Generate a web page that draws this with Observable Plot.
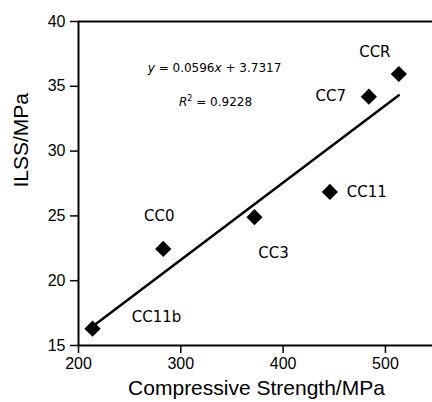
<!DOCTYPE html>
<html>
<head>
<meta charset="utf-8">
<script src="https://cdn.jsdelivr.net/npm/d3@7"></script>
<script src="https://cdn.jsdelivr.net/npm/@observablehq/plot@0.6"></script>
<style>
  html, body { margin: 0; padding: 0; background: #fff; }
  #chart svg { display: block; }
</style>
</head>
<body>
<div id="chart"></div>
<script>
// ---- data ----
const samples = ["CC11b", "CC0", "CC3", "CC11", "CC7", "CCR"];
const compressive = [213.7, 282.8, 372.0, 445.7, 483.8, 513.1];
const ilss = [16.3, 22.45, 24.9, 26.85, 34.2, 35.95];
const fitSlope = 0.0596;
const fitIntercept = 3.7317;
const fitR2 = 0.9228;
const xTicks = [200, 300, 400, 500];
const yTicks = [15, 20, 25, 30, 35, 40];
const xTitle = "Compressive Strength/MPa";
const yTitle = "ILSS/MPa";

// ---- build ----
const points = samples.map((s, i) => ({name: s, x: compressive[i], y: ilss[i]}));
const xMin = d3.min(compressive), xMax = d3.max(compressive);
const fitLine = [xMin, xMax].map(x => ({x, y: fitSlope * x + fitIntercept}));
const eqText = `y = ${fitSlope}x + ${fitIntercept}`;
const r2Text = `R2 = ${fitR2}`;

// label offsets in pixels (style)
const labelOffset = {
  "CC11b": [64, -11], "CC0": [-4, -33], "CC3": [19, 36],
  "CC11": [37, 0], "CC7": [-38, 0], "CCR": [-24, -22]
};

const labelFont = "'DejaVu Sans', Verdana, sans-serif";
const axisFont = "'Liberation Sans', Arial, sans-serif";

const chart = Plot.plot({
  width: 432,
  height: 402,
  marginLeft: 78,
  marginRight: 0,
  marginTop: 21,
  marginBottom: 57,
  style: {fontFamily: axisFont, fontSize: "16px", color: "#000", background: "#fff"},
  x: {domain: [200, 546], ticks: xTicks},
  y: {domain: [15, 40], ticks: yTicks},
  marks: [
    Plot.ruleY([40], {stroke: "#000", strokeWidth: 2}),
    Plot.ruleY([15], {stroke: "#000", strokeWidth: 2}),
    Plot.ruleX([200], {stroke: "#000", strokeWidth: 2}),
    Plot.axisX({ticks: xTicks, tickSize: 8, tickPadding: 4, label: null, fontSize: 16, strokeWidth: 1.5}),
    Plot.axisY({ticks: yTicks, tickSize: 8, tickPadding: 5, label: null, fontSize: 16, strokeWidth: 1.5}),
    Plot.text([xTitle], {frameAnchor: "bottom", text: d => d, dx: 1, dy: 43, lineAnchor: "middle", fontSize: 21, fontFamily: axisFont}),
    Plot.text([yTitle], {frameAnchor: "left", text: d => d, dx: -57, dy: 4, rotate: -90, lineAnchor: "middle", fontSize: 21, fontFamily: axisFont}),
    Plot.line(fitLine, {x: "x", y: "y", stroke: "#000", strokeWidth: 2.5}),
    Plot.dot(points, {x: "x", y: "y", symbol: "diamond2", r: 7.3, fill: "#000", stroke: "none"}),
    ...points.map(p => Plot.text([p], {
      x: "x", y: "y", text: "name",
      dx: labelOffset[p.name][0], dy: labelOffset[p.name][1],
      fontSize: 15, fontFamily: labelFont, lineAnchor: "middle"
    })),
    Plot.text([eqText], {frameAnchor: "top-left", text: d => d, dx: 136, dy: 47, textAnchor: "middle", lineAnchor: "middle", fontSize: 12, fontFamily: labelFont}),
    Plot.text([r2Text], {frameAnchor: "top-left", text: d => d, dx: 137, dy: 81, textAnchor: "middle", lineAnchor: "middle", fontSize: 12, fontFamily: labelFont})
  ]
});

// style the equation: italic variables, superscript
chart.querySelectorAll("text").forEach(t => {
  if (t.textContent === eqText) {
    t.textContent = "";
    const parts = [["y", true], [` = ${fitSlope}`, false], ["x", true], [` + ${fitIntercept}`, false]];
    parts.forEach(([s, it]) => {
      const ts = document.createElementNS("http://www.w3.org/2000/svg", "tspan");
      ts.textContent = s;
      if (it) ts.setAttribute("font-style", "italic");
      t.appendChild(ts);
    });
  } else if (t.textContent === r2Text) {
    t.textContent = "";
    const a = document.createElementNS("http://www.w3.org/2000/svg", "tspan");
    a.textContent = "R"; a.setAttribute("font-style", "italic");
    const b = document.createElementNS("http://www.w3.org/2000/svg", "tspan");
    b.textContent = "2"; b.setAttribute("font-size", "8"); b.setAttribute("dy", "-5");
    const c = document.createElementNS("http://www.w3.org/2000/svg", "tspan");
    c.textContent = ` = ${fitR2}`; c.setAttribute("dy", "5");
    t.appendChild(a); t.appendChild(b); t.appendChild(c);
  }
});

document.getElementById("chart").appendChild(chart);
</script>
</body>
</html>
